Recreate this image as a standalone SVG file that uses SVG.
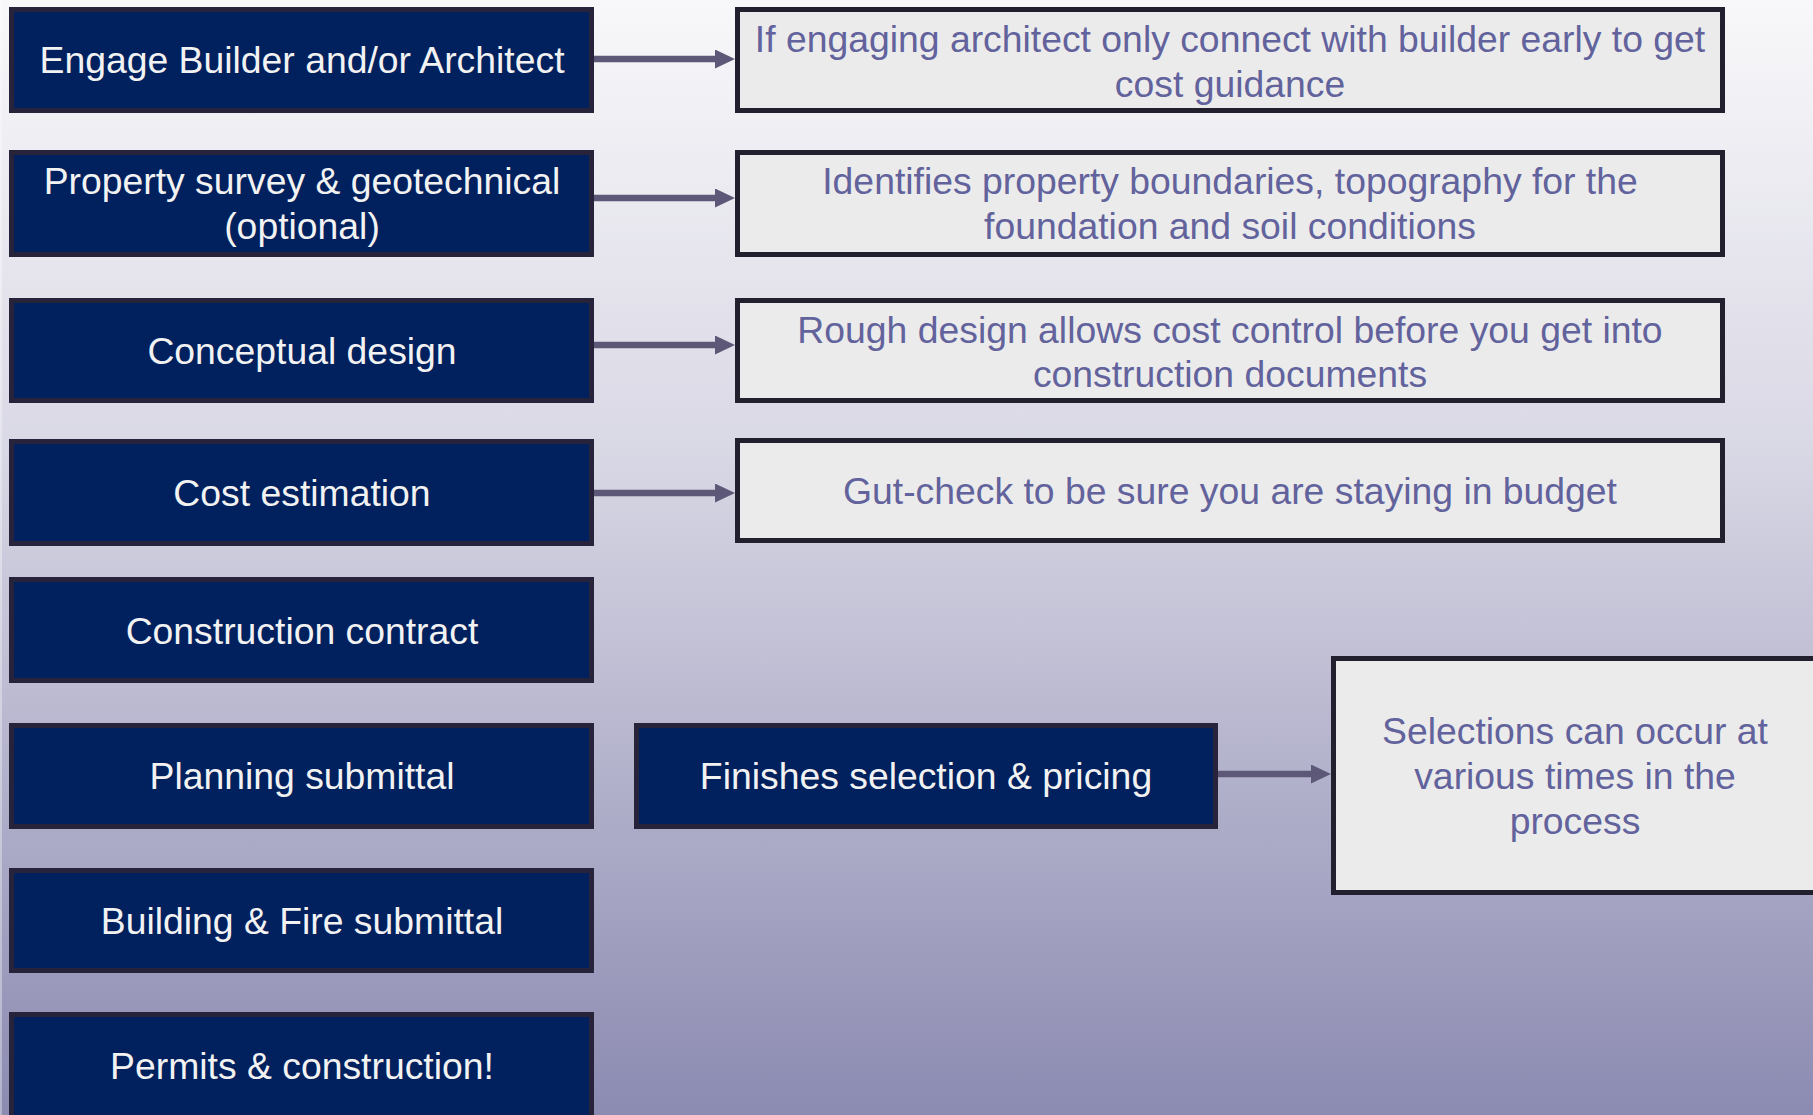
<svg xmlns="http://www.w3.org/2000/svg" width="1813" height="1115" viewBox="0 0 1813 1115">
<defs>
<linearGradient id="bg" x1="0" y1="0" x2="0" y2="1">
<stop offset="0" stop-color="#f8f8fa"/>
<stop offset="0.4" stop-color="#d9d8e5"/>
<stop offset="1" stop-color="#8b8ab1"/>
</linearGradient>
<marker id="ah" markerUnits="userSpaceOnUse" markerWidth="22" markerHeight="20" refX="10" refY="9.5" orient="auto">
<path d="M0,0 L20,9.5 L0,19 z" fill="#5e5878"/>
</marker>
</defs>
<style>
.step{fill:#00205e;stroke:#26233a;stroke-width:5}
.note{fill:#ebebeb;stroke:#221f2e;stroke-width:5}
.st{font-family:"Liberation Sans",Arial,sans-serif;font-size:37.33px;fill:#f2f2f2;text-anchor:middle}
.nt{font-family:"Liberation Sans",Arial,sans-serif;font-size:37.33px;fill:#62629c;text-anchor:middle}
.conn{stroke:#5e5878;stroke-width:6.5;fill:none;marker-end:url(#ah)}
</style>
<rect width="1813" height="1115" fill="url(#bg)"/>
<rect x="0" y="0" width="2" height="1115" fill="#ffffff" opacity="0.35"/>

<g id="connectors">
<line class="conn" x1="594" y1="59" x2="725" y2="59"/>
<line class="conn" x1="594" y1="198" x2="725" y2="198"/>
<line class="conn" x1="594" y1="345" x2="725" y2="345"/>
<line class="conn" x1="594" y1="493" x2="725" y2="493"/>
<line class="conn" x1="1218" y1="774" x2="1321" y2="774"/>
</g>

<g id="n1"><rect class="step" x="11.5" y="9.5" width="580" height="101"/><text class="st" x="302" y="73">Engage Builder and/or Architect</text></g>
<g id="n2"><rect class="step" x="11.5" y="152.5" width="580" height="102"/><text class="st" x="302" y="194">Property survey &amp; geotechnical</text><text class="st" x="302" y="239">(optional)</text></g>
<g id="n3"><rect class="step" x="11.5" y="300.5" width="580" height="100"/><text class="st" x="302" y="364">Conceptual design</text></g>
<g id="n4"><rect class="step" x="11.5" y="441.5" width="580" height="102"/><text class="st" x="302" y="506">Cost estimation</text></g>
<g id="n5"><rect class="step" x="11.5" y="579.5" width="580" height="101"/><text class="st" x="302" y="643.5">Construction contract</text></g>
<g id="n6"><rect class="step" x="11.5" y="725.5" width="580" height="101"/><text class="st" x="302" y="789">Planning submittal</text></g>
<g id="n7"><rect class="step" x="11.5" y="870.5" width="580" height="100"/><text class="st" x="302" y="933.5">Building &amp; Fire submittal</text></g>
<g id="n8"><rect class="step" x="11.5" y="1014.5" width="580" height="120"/><text class="st" x="302" y="1079">Permits &amp; construction!</text></g>

<g id="d1"><rect class="note" x="737.5" y="9.5" width="985" height="101"/><text class="nt" x="1230" y="52">If engaging architect only connect with builder early to get</text><text class="nt" x="1230" y="97">cost guidance</text></g>
<g id="d2"><rect class="note" x="737.5" y="152.5" width="985" height="102"/><text class="nt" x="1230" y="194">Identifies property boundaries, topography for the</text><text class="nt" x="1230" y="239">foundation and soil conditions</text></g>
<g id="d3"><rect class="note" x="737.5" y="300.5" width="985" height="100"/><text class="nt" x="1230" y="343">Rough design allows cost control before you get into</text><text class="nt" x="1230" y="387">construction documents</text></g>
<g id="d4"><rect class="note" x="737.5" y="440.5" width="985" height="100"/><text class="nt" x="1230" y="504">Gut-check to be sure you are staying in budget</text></g>

<g id="f1"><rect class="step" x="636.5" y="725.5" width="579" height="101"/><text class="st" x="926" y="789">Finishes selection &amp; pricing</text></g>
<g id="s1"><rect class="note" x="1333.5" y="658.5" width="500" height="234"/><text class="nt" x="1575" y="744">Selections can occur at</text><text class="nt" x="1575" y="789">various times in the</text><text class="nt" x="1575" y="834">process</text></g>
</svg>
